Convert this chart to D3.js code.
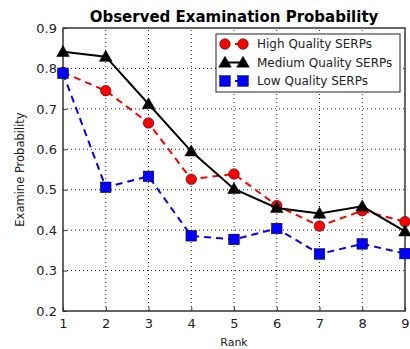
<!DOCTYPE html>
<html>
<head>
<meta charset="utf-8">
<script src="https://cdn.jsdelivr.net/npm/d3@7"></script>
<style>
  body { margin: 0; background: #fff; }
  text { font-family: "DejaVu Sans", sans-serif; }
</style>
</head>
<body>
<svg id="chart" width="410" height="349"></svg>
<script>
const ranks = [1, 2, 3, 4, 5, 6, 7, 8, 9];
const highQuality = [0.79, 0.745, 0.665, 0.526, 0.539, 0.461, 0.41, 0.448, 0.421];
const mediumQuality = [0.841, 0.829, 0.712, 0.595, 0.502, 0.455, 0.441, 0.459, 0.397];
const lowQuality = [0.788, 0.506, 0.533, 0.386, 0.377, 0.404, 0.341, 0.366, 0.342];
const yTicks = [0.2, 0.3, 0.4, 0.5, 0.6, 0.7, 0.8, 0.9];
const seriesNames = ["High Quality SERPs", "Medium Quality SERPs", "Low Quality SERPs"];

const width = 410
const height = 349
const margin = {top: 28, right: 5, bottom: 38, left: 63}

const svg = d3.select("#chart");

const x = d3.scaleLinear()
    .domain([1, 9])
    .range([margin.left, width - margin.right]);

const y = d3.scaleLinear()
    .domain([0.2, 0.9])
    .range([height - margin.bottom, margin.top]);

// grid lines (dotted)
svg.append("g")
    .selectAll("line")
    .data(ranks.slice(1, -1))
    .enter()
    .append("line")
        .attr("x1", d => x(d)).attr("x2", d => x(d))
        .attr("y1", y(0.2)).attr("y2", y(0.9))
        .attr("stroke", "#222")
        .attr("stroke-width", 1)
        .attr("stroke-dasharray", "1,3");

svg.append("g")
    .selectAll("line")
    .data(yTicks.slice(1, -1))
    .enter()
    .append("line")
        .attr("x1", x(1)).attr("x2", x(9))
        .attr("y1", d => y(d)).attr("y2", d => y(d))
        .attr("stroke", "#222")
        .attr("stroke-width", 1)
        .attr("stroke-dasharray", "1,3");

// axes
const xAxis = svg.append("g")
    .attr("transform", `translate(0,${y(0.2)})`)
    .call(d3.axisBottom(x).tickValues(ranks).tickFormat(d3.format("d")).tickSize(-4).tickPadding(8));

const yAxis = svg.append("g")
    .attr("transform", `translate(${x(1)},0)`)
    .call(d3.axisLeft(y).tickValues(yTicks).tickFormat(d3.format(".1f")).tickSize(-4).tickPadding(6));

[xAxis, yAxis].forEach(ax => {
    ax.select(".domain").remove();
    ax.selectAll("text").attr("font-size", 13).attr("fill", "#222")
        .style("font-family", "DejaVu Sans, sans-serif");
    ax.selectAll(".tick line").attr("stroke", "#333");
});

// frame
svg.append("rect")
    .attr("x", x(1)).attr("y", y(0.9))
    .attr("width", x(9) - x(1)).attr("height", y(0.2) - y(0.9))
    .attr("fill", "none")
    .attr("stroke", "#333")
    .attr("stroke-width", 1.5);

// series
const series = [
    {name: seriesNames[0], values: highQuality, color: "#ff0000", dash: "7,5", marker: "circle"},
    {name: seriesNames[1], values: mediumQuality, color: "#000000", dash: null, marker: "triangle"},
    {name: seriesNames[2], values: lowQuality, color: "#0000ff", dash: "7,5", marker: "square"}
];

const line = d3.line()
    .x((d, i) => x(ranks[i]))
    .y(d => y(d));

function drawMarker(g, type, cx, cy, color) {
    if (type === "circle") {
        g.append("circle").attr("cx", cx).attr("cy", cy).attr("r", 5.3)
            .attr("fill", color).attr("stroke", "#000").attr("stroke-width", 0.5);
    } else if (type === "triangle") {
        g.append("path")
            .attr("d", d3.symbol().type(d3.symbolTriangle).size(70)())
            .attr("transform", `translate(${cx},${cy + 1})`)
            .attr("fill", color).attr("stroke", "#000").attr("stroke-width", 0.5);
    } else {
        g.append("rect").attr("x", cx - 5.3).attr("y", cy - 5.3).attr("width", 10.6).attr("height", 10.6)
            .attr("fill", color).attr("stroke", "#000").attr("stroke-width", 0.5);
    }
}

series.forEach(s => {
    const g = svg.append("g");
    g.append("path")
        .datum(s.values)
        .attr("d", line)
        .attr("fill", "none")
        .attr("stroke", s.color)
        .attr("stroke-width", 2)
        .attr("stroke-dasharray", s.dash);
    s.values.forEach((v, i) => drawMarker(g, s.marker, x(ranks[i]), y(v), s.color));
});

// title + labels
svg.append("text")
    .attr("x", (x(1) + x(9)) / 2).attr("y", 22)
    .attr("text-anchor", "middle")
    .attr("font-size", 15).attr("font-weight", "bold")
    .text("Observed Examination Probability");

svg.append("text")
    .attr("x", (x(1) + x(9)) / 2).attr("y", 346)
    .attr("text-anchor", "middle")
    .attr("font-size", 11).attr("fill", "#222")
    .text("Rank");

svg.append("text")
    .attr("transform", `translate(24,${(y(0.2) + y(0.9)) / 2}) rotate(-90)`)
    .attr("text-anchor", "middle")
    .attr("font-size", 11.5).attr("fill", "#222")
    .text("Examine Probability");

// legend
const legend = svg.append("g");
legend.append("rect")
    .attr("x", 216).attr("y", 34).attr("width", 184).attr("height", 58)
    .attr("fill", "#fff").attr("stroke", "#222").attr("stroke-width", 1);

series.forEach((s, i) => {
    const ly = 44 + i * 18.5;
    legend.append("line")
        .attr("x1", 225).attr("x2", 243).attr("y1", ly).attr("y2", ly)
        .attr("stroke", s.color).attr("stroke-width", 2)
        .attr("stroke-dasharray", s.dash ? "4,6" : null);
    drawMarker(legend, s.marker, 225, ly, s.color);
    drawMarker(legend, s.marker, 243, ly, s.color);
    legend.append("text")
        .attr("x", 257).attr("y", ly + 4)
        .attr("font-size", 12).attr("fill", "#222")
        .text(s.name);
});
</script>
</body>
</html>
